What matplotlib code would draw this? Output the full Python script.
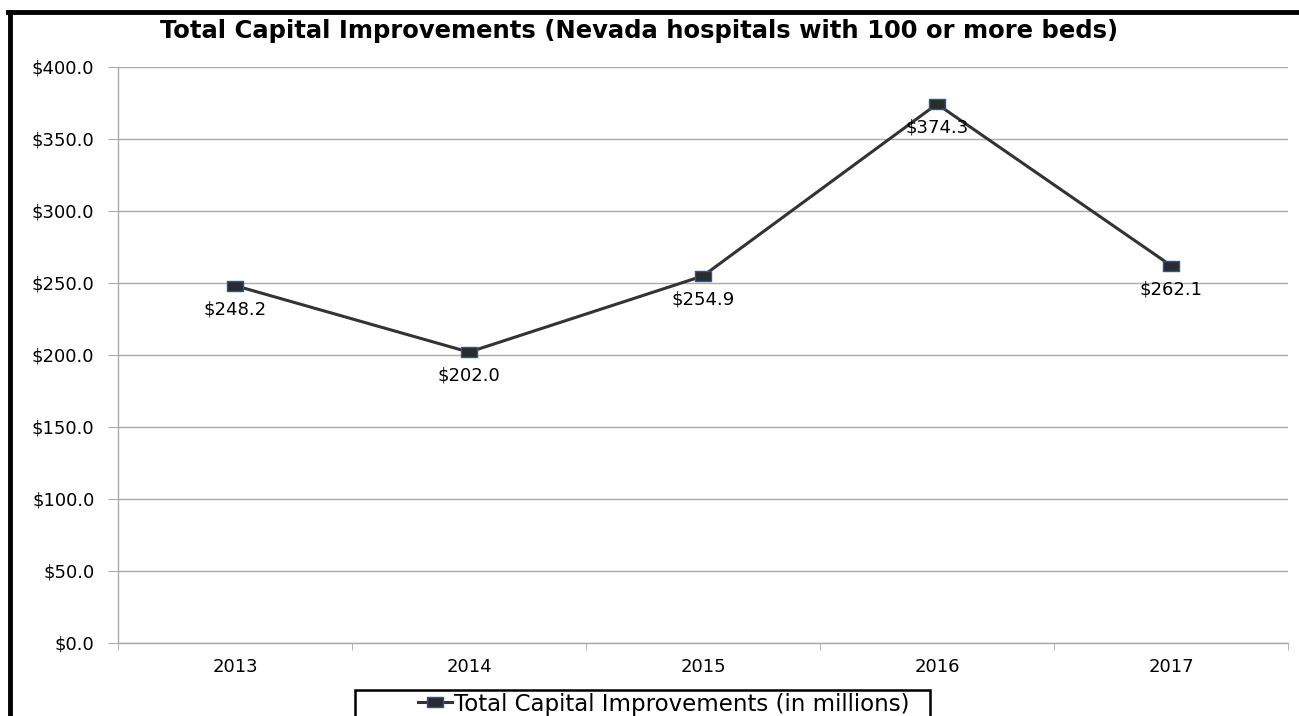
import matplotlib.pyplot as plt
from matplotlib.patches import Rectangle
from matplotlib.path import Path
from matplotlib.lines import Line2D

plt.rcParams['font.family'] = ['DejaVu Sans']

years = ['2013', '2014', '2015', '2016', '2017']
capital = [248.2, 202.0, 254.9, 374.3, 262.1]
yticks = [0, 50, 100, 150, 200, 250, 300, 350, 400]

W, H = 1299, 716
fig = plt.figure(figsize=(W / 100, H / 100), dpi=100)
ax = fig.add_axes([118 / W, 1 - 643 / H, 1170 / W, 576 / H])

# wide box marker, like the spreadsheet default
box = Path([(-1, -0.6), (1, -0.6), (1, 0.6), (-1, 0.6), (-1, -0.6)],
           [Path.MOVETO, Path.LINETO, Path.LINETO, Path.LINETO, Path.CLOSEPOLY])

x = list(range(len(years)))
ax.plot(x, capital, color='#333333', lw=2.2, marker=box, markersize=11,
        markerfacecolor='#2b2b2b', markeredgecolor='#2f5597', markeredgewidth=1.0,
        zorder=3)

for xi, v in zip(x, capital):
    ax.annotate(f'${v:.1f}', (xi, v), xytext=(0, -17), textcoords='offset points',
                ha='center', va='center', fontsize=13, color='black')

ax.set_xlim(-0.5, len(years) - 0.5)
ax.set_ylim(0, 400)
ax.set_yticks(yticks)
ax.set_yticklabels([f'${t:.1f}' for t in yticks])
ax.set_xticks(x)
ax.set_xticklabels(years)
ax.set_xticks([i - 0.5 for i in range(len(years) + 1)], minor=True)

ax.grid(axis='y', color='#ababab', lw=1)
ax.set_axisbelow(True)
for s in ['top', 'right']:
    ax.spines[s].set_visible(False)
for s in ['left', 'bottom']:
    ax.spines[s].set_color('#ababab')
    ax.spines[s].set_linewidth(1)

ax.tick_params(axis='y', length=7, color='#ababab', labelsize=13, pad=10)
ax.tick_params(axis='x', which='major', length=0, labelsize=13, pad=11)
ax.tick_params(axis='x', which='minor', length=5, color='#ababab')

fig.text(639 / W, 1 - 31 / H, 'Total Capital Improvements (Nevada hospitals with 100 or more beds)',
         ha='center', va='center', fontsize=17.5, fontweight='bold')

# legend box, its bottom edge falls past the image
fig.patches.append(Rectangle((355 / W, 1 - 722 / H), 575 / W, 32 / H,
                             transform=fig.transFigure, fill=False,
                             edgecolor='black', lw=1.8))
handle = Line2D([], [], color='#333333', lw=2.2, marker=box, markersize=11,
                markerfacecolor='#2b2b2b', markeredgecolor='#2f5597')
fig.legend([handle], ['Total Capital Improvements (in millions)'],
           loc='center left', bbox_to_anchor=(418 / W, 1 - 704 / H),
           frameon=False, fontsize=16.5, handlelength=1.5, handletextpad=0.05,
           borderpad=0, borderaxespad=0)

# thick outer frame on the top and left sides
fig.add_artist(Line2D([10 / W, 10 / W], [0, 1 - 12 / H], transform=fig.transFigure,
                      color='black', lw=3.5))
fig.add_artist(Line2D([8 / W, 1], [1 - 12 / H, 1 - 12 / H], transform=fig.transFigure,
                      color='black', lw=3.5))

fig.savefig('out.png', dpi=100)
